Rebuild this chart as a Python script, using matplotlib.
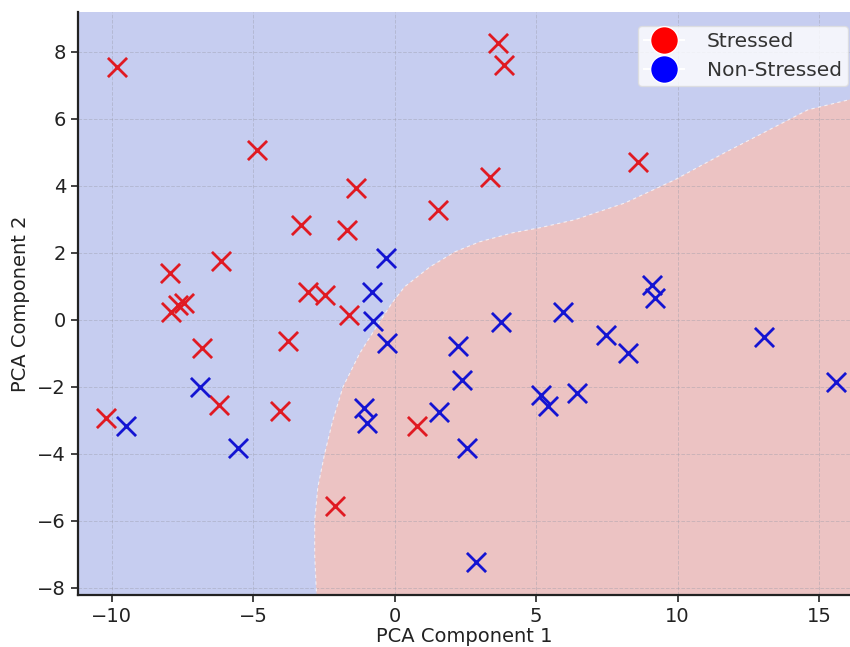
import matplotlib
matplotlib.use("Agg")
import matplotlib.pyplot as plt
from matplotlib.lines import Line2D

# Data
stressed_x = [-9.83, -4.88, -1.36, -3.30, -1.67, -6.16, -7.93, -7.65, -7.45, -7.90,
              -3.08, -2.48, -1.63, 3.64, 3.86, 3.36, 1.52, 8.60, -6.80, -3.78,
              -6.22, -4.07, -10.22, -2.12, 0.79]
stressed_y = [7.55, 5.07, 3.95, 2.82, 2.69, 1.76, 1.41, 0.45, 0.50, 0.25,
              0.83, 0.75, 0.15, 8.27, 7.61, 4.27, 3.28, 4.72, -0.83, -0.63,
              -2.54, -2.71, -2.93, -5.55, -3.17]
nonstressed_x = [-0.32, -0.80, -0.77, -0.26, -6.90, -9.49, -5.54, -1.09, -0.97,
                 2.23, 2.38, 1.55, 2.56, 2.87, 5.17, 5.42, 6.43, 7.46, 8.24,
                 13.05, 15.60, 3.75, 5.94, 9.09, 9.20]
nonstressed_y = [1.86, 0.82, -0.02, -0.68, -1.99, -3.17, -3.81, -2.62, -3.08,
                 -0.77, -1.79, -2.74, -3.83, -7.22, -2.24, -2.56, -2.17, -0.45, -0.99,
                 -0.50, -1.84, -0.06, 0.24, 1.04, 0.66]

# Decision boundary
boundary_x = [-2.76, -2.83, -2.83, -2.72, -2.48, -2.19, -1.83, -1.24, -0.53, -0.10,
              0.35, 1.24, 2.12, 3.00, 4.17, 5.13, 6.37, 8.14, 9.90, 11.67,
              13.44, 14.61, 16.30]
boundary_y = [-8.30, -7.00, -6.00, -5.00, -4.00, -3.00, -2.00, -1.00, -0.05, 0.50,
              0.99, 1.58, 2.03, 2.33, 2.60, 2.75, 2.99, 3.49, 4.18, 4.99,
              5.76, 6.27, 6.62]

xlim = (-11.2, 16.1)
ylim = (-8.21, 9.19)

fig = plt.figure(figsize=(8.5, 6.47), dpi=100)
ax = fig.add_axes([78/850, (647-595)/647, (850-78)/850, (595-12)/647])
ax.set_facecolor('#c6cdf0')

poly_x = boundary_x + [16.3, 16.3]
poly_y = boundary_y + [-8.3, -8.3]
ax.fill(poly_x, poly_y, color='#ecc3c3', zorder=0, linewidth=0)
ax.plot(boundary_x, boundary_y, color='white', lw=0.8, ls=(0, (3, 3)), alpha=0.7, zorder=1)

ax.grid(True, color='#9a9aa8', ls='--', lw=0.7, alpha=0.4, zorder=1)
ax.set_axisbelow(True)

ax.scatter(stressed_x, stressed_y, marker='x', color='#e01a22', s=190, linewidths=2.0, zorder=3)
ax.scatter(nonstressed_x, nonstressed_y, marker='x', color='#1414d2', s=190, linewidths=2.0, zorder=3)

ax.set_xlim(*xlim)
ax.set_ylim(*ylim)
ax.set_xticks([-10, -5, 0, 5, 10, 15])
ax.set_yticks([-8, -6, -4, -2, 0, 2, 4, 6, 8])
ax.tick_params(labelsize=14, colors='#222222', length=5, width=1.2)
for s in ['top', 'right']:
    ax.spines[s].set_visible(False)
for s in ['left', 'bottom']:
    ax.spines[s].set_color('#222222')
    ax.spines[s].set_linewidth(1.6)

ax.set_xlabel('PCA Component 1', fontsize=14, color='#222222', labelpad=1)
ax.set_ylabel('PCA Component 2', fontsize=14, color='#222222', labelpad=5)

handles = [Line2D([0], [0], marker='o', color='w', label='Stressed', markerfacecolor='red', markersize=20),
           Line2D([0], [0], marker='o', color='w', label='Non-Stressed', markerfacecolor='blue', markersize=20)]
leg = ax.legend(handles=handles, loc='upper right', fontsize=14.5, frameon=True,
                framealpha=0.8, edgecolor='#dddddd', borderpad=0.3, labelspacing=0.5,
                handletextpad=1.1, bbox_to_anchor=(1.01, 0.993))
for t in leg.get_texts():
    t.set_color('#333333')

fig.savefig('out.png', dpi=100)
